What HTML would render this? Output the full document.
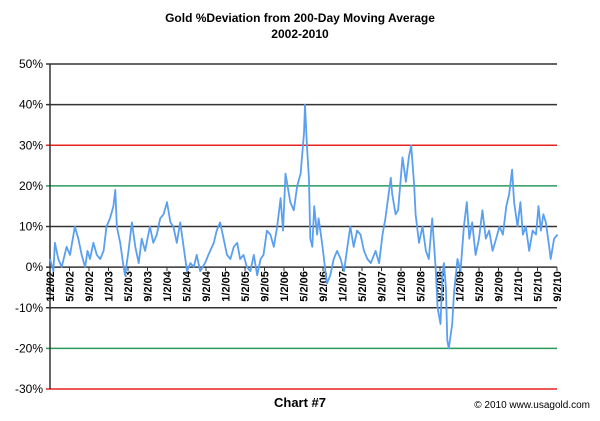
<!DOCTYPE html>
<html><head><meta charset="utf-8"><style>
body{margin:0;background:#fff;width:600px;height:416px;overflow:hidden;font-family:"Liberation Sans",Arial,sans-serif}
</style></head><body>
<svg id="c" width="600" height="416" xmlns="http://www.w3.org/2000/svg" font-family="Liberation Sans, Arial, sans-serif">
<text x="300" y="22" text-anchor="middle" font-size="12" font-weight="bold">Gold %Deviation from 200-Day Moving Average</text>
<text x="300" y="38" text-anchor="middle" font-size="12" font-weight="bold">2002-2010</text>
<text x="300" y="407" text-anchor="middle" font-size="13" font-weight="bold">Chart #7</text>
<text x="590" y="408" text-anchor="end" font-size="10">© 2010 www.usagold.com</text>
<g id="grid"></g><g id="xl"></g><g id="ln"></g>
</svg>
<script>
const yTicks=[50,40,30,20,10,0,-10,-20,-30];
const yColors=["#333","#333","#e8201e","#2a9a5a","#333","#333","#333","#2a9a5a","#e8201e"];
const xLabels=["1/2/02","5/2/02","9/2/02","1/2/03","5/2/03","9/2/03","1/2/04","5/2/04","9/2/04","1/2/05","5/2/05","9/2/05","1/2/06","5/2/06","9/2/06","1/2/07","5/2/07","9/2/07","1/2/08","5/2/08","9/2/08","1/2/09","5/2/09","9/2/09","1/2/10","5/2/10","9/2/10"];
const months=[0,0.7,1.0,1.7,2.4,3.4,4.1,5.1,5.8,6.5,7.2,7.7,8.2,8.9,9.6,10.3,11.0,11.6,12.3,13.0,13.4,13.7,14.4,15.1,15.4,16.1,16.8,17.5,18.2,18.8,19.5,20.5,21.2,21.9,22.6,23.3,24.0,24.7,25.3,26.0,26.7,27.4,28.1,28.8,29.5,30.1,30.8,31.8,32.5,33.6,34.2,34.9,35.6,36.3,37.0,37.7,38.4,39.0,39.7,40.4,41.1,41.8,42.5,43.2,43.8,44.5,45.2,45.9,46.6,47.3,47.8,48.3,49.3,50.0,50.7,51.4,52.1,52.3,52.7,53.1,53.4,53.8,54.2,54.8,55.1,55.8,56.2,56.8,57.5,58.2,58.9,59.6,60.3,61.0,61.6,62.3,63.0,63.7,64.4,65.1,65.8,66.8,67.5,68.2,68.8,69.9,70.2,70.9,71.4,72.3,73.0,73.6,74.1,74.7,75.0,75.7,76.4,77.1,77.7,78.4,79.1,79.5,80.1,80.5,80.8,81.2,81.5,81.8,82.5,82.9,83.6,84.2,84.9,85.5,86.0,86.6,87.3,88.0,88.7,89.4,90.1,90.8,91.5,92.2,92.9,93.6,94.2,94.8,95.2,95.9,96.5,97.0,97.6,98.3,99.0,99.7,100.2,100.7,101.2,101.7,102.4,102.7,103.4,104.1];
const deviation=[2,-1,6,2,0,5,3,10,7,3,0,4,2,6,3,2,4,10,12,15,19,10,6,0,-2,4,11,5,1,7,4,10,6,8,12,13,16,11,10,6,11,5,-1,1,0,3,-1,1,3,6,9,11,7,3,2,5,6,2,3,0,-1,3,-2,2,3,9,8,5,10,17,9,23,16,14,20,23,33,40,30,22,7,5,15,8,12,6,2,-4,-2,2,4,2,-1,5,10,5,9,8,4,2,1,4,1,8,12,22,18,13,14,27,21,27,30,20,13,6,10,4,2,12,0,-10,-14,-2,1,-5,-18,-20,-14,-6,2,-1,10,16,7,11,3,7,14,7,9,4,7,10,8,15,18,24,16,10,16,8,10,4,9,8,15,9,13,11,5,2,7,8];
const L=50,R=557,T=64,B=389,NS="http://www.w3.org/2000/svg";
const yS=v=>T+(50-v)*(B-T)/80;
const xS=m=>L+m*(R-L)/104;
function mk(tag,a,p){const e=document.createElementNS(NS,tag);for(const k in a)e.setAttribute(k,a[k]);p.appendChild(e);return e;}
const g=document.getElementById('grid');
yTicks.forEach((v,i)=>{
 const l=mk('line',{x1:L-4,x2:R,y1:yS(v),y2:yS(v),stroke:yColors[i],'stroke-width':1.5},g);
 
 
 const t=mk('text',{x:L-7,y:yS(v)+4,'text-anchor':'end','font-size':12},g);t.textContent=v+'%';
 
 
});
const ax=mk('line',{x1:L,x2:L,y1:T,y2:B,stroke:'#333','stroke-width':1.5},g);


const xg=document.getElementById('xl');
xLabels.forEach((s,i)=>{
 const x=xS(i*4);
 mk('line',{x1:x,x2:x,y1:yS(0),y2:yS(0)+4,stroke:'#333'},xg);
 const t=mk('text',{transform:`translate(${x+4},${yS(0)+4}) rotate(-90)`,'text-anchor':'end','font-size':11,'font-weight':'bold'},xg);
 t.textContent=s;
 
 
});
const d=months.map((m,i)=>(i?'L':'M')+xS(m).toFixed(1)+','+yS(deviation[i]).toFixed(1)).join('');
const p=mk('path',{d:d,fill:'none',stroke:'#5a9ff0','stroke-width':1.8,'stroke-linejoin':'round'},document.getElementById('ln'));


</script>
</body></html>
